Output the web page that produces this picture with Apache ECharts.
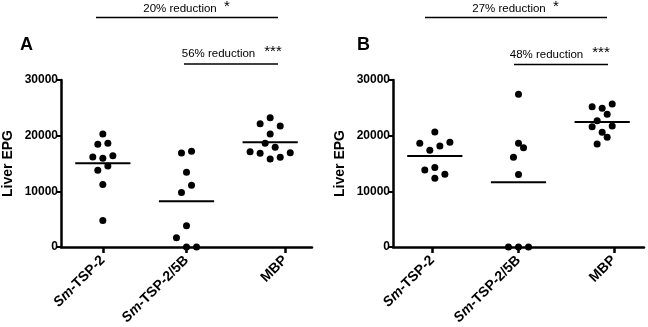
<!DOCTYPE html>
<html>
<head>
<meta charset="utf-8">
<script src="https://cdn.jsdelivr.net/npm/echarts@6/dist/echarts.min.js"></script>
<style>
  html, body { margin: 0; padding: 0; background: #fff; }
  #chart { width: 648px; height: 327px; }
</style>
</head>
<body>
<div id="chart"></div>
<script>
// categories and y ticks
const groups = ['Sm-TSP-2', 'Sm-TSP-2/5B', 'MBP']
const yTicks = [0, 10000, 20000, 30000]

// panel A - liver EPG per mouse (col = jitter column of the dot)
const aTsp2 = [20300, 18460, 18640, 16180, 15950, 16410, 13800, 14570, 11220, 4770]
const aTsp2Col = [0, -1, 1, -2, 0, 2, -1, 1, 0, 0]
const aTsp25b = [16900, 17200, 13440, 11110, 9780, 3820, 1670, 0, 0]
const aTsp25bCol = [-1, 1, 0, 1, -1, 0, -2, 0, 2]
const aMbp = [23220, 22150, 21740, 20300, 18640, 17920, 17130, 16840, 15820, 16130, 16950]
const aMbpCol = [0, -2, 2, 0, -1, 1, -4, -2, 0, 2, 4]

// panel B
const bTsp2 = [20660, 18640, 17380, 18150, 18820, 13850, 14260, 12360, 13080]
const bTsp2Col = [0, -3, -1, 1, 3, -2, 0, 0, 2]
const bTsp25b = [27420, 18640, 17850, 16130, 13010, 0, 0, 0]
const bTsp25bCol = [0, 0, 1, -1, 0, -2, 0, 2]
const bMbp = [25200, 24910, 25680, 23830, 22690, 21610, 21740, 20610, 19710, 18510]
const bMbpCol = [-2, 0, 2, 1, -1, -2, 2, 0, 1, -1]

// significance annotations
const annoA = ['20% reduction', '56% reduction']
const starsA = ['*', '***']
const annoB = ['27% reduction', '48% reduction']
const starsB = ['*', '***']

const FONT = "'Liberation Sans', Arial, sans-serif"
const JIT = 0.06        // x step of one jitter column
const MEAN_HALF = 0.33  // half width of the mean bar

const mean = arr => arr.reduce((s, v) => s + v, 0) / arr.length

const toPoints = (vals, cols, gi) => vals.map((v, k) => [gi + 1 + cols[k] * JIT, v])

const panelA = [[aTsp2, aTsp2Col], [aTsp25b, aTsp25bCol], [aMbp, aMbpCol]]
const panelB = [[bTsp2, bTsp2Col], [bTsp25b, bTsp25bCol], [bMbp, bMbpCol]]

const chart = echarts.init(document.getElementById('chart'))

const gridOf = (left) => ({
  left, top: 80, width: 251, height: 167,
  outerBoundsMode: 'none', containLabel: false
})

const dotAxis = (gridIndex) => ({
  type: 'value', gridIndex, min: 0.5, max: 3.5, show: false, position: 'bottom'
})

const tickAxis = (gridIndex, ticks) => ({
  type: 'value', gridIndex, min: 0.5, max: 3.5, position: 'bottom',
  splitLine: { show: false },
  axisLine: { show: true, onZero: false, lineStyle: { color: '#000', width: 2.5 } },
  axisTick: { show: true, customValues: ticks, length: 6, lineStyle: { color: '#000', width: 2.5 } },
  axisLabel: {
    customValues: ticks,
    rotate: 45,
    margin: 11,
    fontFamily: FONT,
    fontSize: 14,
    fontWeight: 'bold',
    color: '#000',
    formatter: (v) => {
      const name = groups[ticks.indexOf(v)] || ''
      return name.startsWith('Sm') ? '{i|Sm}' + name.slice(2) : name
    },
    rich: {
      i: { fontStyle: 'italic', fontWeight: 'bold', fontFamily: FONT, fontSize: 14, color: '#000' }
    }
  }
})

const yAxisOf = (gridIndex) => ({
  type: 'value', gridIndex, min: yTicks[0], max: yTicks[yTicks.length - 1], interval: 10000,
  name: 'Liver EPG', nameLocation: 'middle', nameGap: 46,
  nameTextStyle: { fontFamily: FONT, fontSize: 14, fontWeight: 'bold', color: '#000' },
  splitLine: { show: false },
  axisLine: { show: true, lineStyle: { color: '#000', width: 2.5 } },
  axisTick: { show: true, length: 5, lineStyle: { color: '#000', width: 2 } },
  axisLabel: {
    fontFamily: FONT, fontSize: 12, fontWeight: 'bold', color: '#000', margin: 3,
    formatter: v => String(v)
  }
})

const scatterSeries = (panel, xi, yi) => panel.map(([vals, cols], gi) => ({
  type: 'scatter', xAxisIndex: xi, yAxisIndex: yi,
  symbol: 'circle', symbolSize: 7,
  itemStyle: { color: '#000', opacity: 1 },
  silent: true,
  data: toPoints(vals, cols, gi)
}))

const meanSeries = (panel, xi, yi) => ({
  type: 'custom', xAxisIndex: xi, yAxisIndex: yi, silent: true, z: 3,
  data: panel.map(([vals], gi) => [gi + 1, mean(vals)]),
  renderItem: (params, api) => {
    const c = api.value(0), m = api.value(1)
    const p1 = api.coord([c - MEAN_HALF, m])
    const p2 = api.coord([c + MEAN_HALF, m])
    return {
      type: 'line',
      shape: { x1: p1[0], y1: p1[1], x2: p2[0], y2: p2[1] },
      style: { stroke: '#000', lineWidth: 2 }
    }
  }
})

const txt = (x, y, text, size, extra) => ({
  type: 'text', x, y,
  style: Object.assign({ text, fontFamily: FONT, fontSize: size, fill: '#000', align: 'center', verticalAlign: 'middle' }, extra || {})
})
const hline = (x1, x2, y) => ({
  type: 'line', shape: { x1, y1: y, x2, y2: y }, style: { stroke: '#000', lineWidth: 1.5 }
})

const graphic = [
  txt(20, 45, 'A', 18, { fontWeight: 'bold', align: 'left' }),
  txt(357, 45, 'B', 18, { fontWeight: 'bold', align: 'left' }),
  // panel A brackets
  txt(180, 9, annoA[0], 11.5),
  txt(227, 7, starsA[0], 15),
  hline(96, 278, 17.5),
  txt(218.5, 54, annoA[1], 11.5),
  txt(273, 52, starsA[1], 15),
  hline(184, 278, 64),
  // panel B brackets
  txt(509, 9, annoB[0], 11.5),
  txt(556, 7, starsB[0], 15),
  hline(425, 607, 17.5),
  txt(546.5, 55, annoB[1], 11.5),
  txt(601, 53, starsB[1], 15),
  hline(514, 608, 64.5)
]

const option = {
  backgroundColor: '#fff',
  animation: false,
  grid: [gridOf(61), gridOf(393)],
  xAxis: [
    dotAxis(0), tickAxis(0, [1, 2, 3.18]),
    dotAxis(1), tickAxis(1, [0.97, 2, 3.14])
  ],
  yAxis: [yAxisOf(0), yAxisOf(1)],
  series: [
    ...scatterSeries(panelA, 0, 0),
    meanSeries(panelA, 0, 0),
    ...scatterSeries(panelB, 2, 1),
    meanSeries(panelB, 2, 1)
  ],
  graphic
}

chart.setOption(option)
</script>
</body>
</html>
